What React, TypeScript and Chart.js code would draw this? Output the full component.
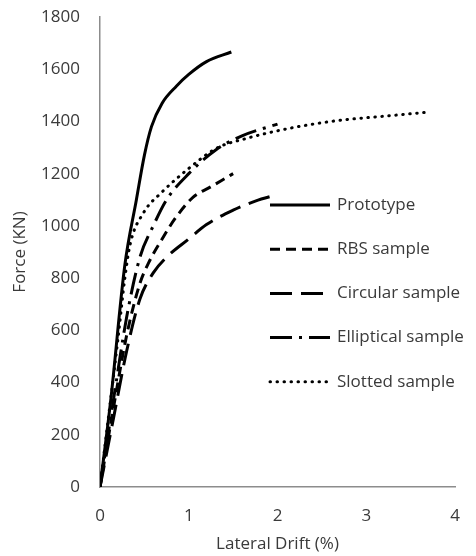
import React, { useEffect, useRef } from "react";
import { Chart, registerables } from "chart.js";

Chart.register(...registerables);

const seriesNames = ["Prototype", "RBS sample", "Circular sample", "Elliptical sample", "Slotted sample"];

const prototypeX = [0, 0.12, 0.28, 0.41, 0.5, 0.58, 0.7, 0.86, 1.0, 1.2, 1.48];
const prototypeY = [0, 330, 850, 1100, 1270, 1380, 1470, 1535, 1580, 1629, 1666];

const rbsX = [0, 0.15, 0.3, 0.45, 0.55, 0.7, 0.85, 1.05, 1.25, 1.5];
const rbsY = [0, 300, 580, 780, 860, 950, 1030, 1110, 1150, 1200];

const circularX = [0, 0.15, 0.3, 0.45, 0.6, 0.75, 1.0, 1.2, 1.5, 1.75, 2.0];
const circularY = [0, 260, 520, 720, 820, 880, 950, 1005, 1060, 1095, 1120];

const ellipticalX = [0, 0.15, 0.3, 0.45, 0.6, 0.75, 1.0, 1.3, 1.6, 2.0];
const ellipticalY = [0, 330, 650, 880, 1000, 1100, 1200, 1290, 1345, 1390];

const slottedX = [0, 0.1, 0.2, 0.28, 0.34, 0.49, 0.7, 0.86, 1.0, 1.31, 1.65, 2.14, 2.67, 3.2, 3.68];
const slottedY = [0, 280, 560, 800, 930, 1050, 1130, 1180, 1220, 1297, 1335, 1374, 1403, 1420, 1435];

const xTicks = [0, 1, 2, 3, 4];
const yTicks = [0, 200, 400, 600, 800, 1000, 1200, 1400, 1600, 1800];

const xTitle = "Lateral Drift (%)";
const yTitle = "Force (KN)";

const FONT = "'Open Sans'";
const FS = 17;
const TEXT = "#3a3a3a";

const styles = [
  { dash: [] as number[], cap: "butt" },
  { dash: [10, 6], cap: "butt" },
  { dash: [22, 9], cap: "butt" },
  { dash: [22, 7, 3, 7], cap: "butt" },
  { dash: [0.5, 6.5], cap: "round" },
];

function pts(xs: number[], ys: number[]) {
  return xs.map((x, i) => ({ x, y: ys[i] }));
}

const legendPlugin = {
  id: "customLegend",
  afterDraw(chart: any) {
    const ctx = chart.ctx;
    const x0 = 270;
    const x1 = 330;
    const yStart = 205;
    const step = 44.2;
    ctx.save();
    chart.data.datasets.forEach((ds: any, i: number) => {
      const y = yStart + i * step;
      ctx.beginPath();
      ctx.setLineDash(ds.borderDash || []);
      ctx.lineCap = ds.borderCapStyle || "butt";
      ctx.lineWidth = ds.borderWidth;
      ctx.strokeStyle = "#000";
      ctx.moveTo(x0, y);
      ctx.lineTo(x1, y);
      ctx.stroke();
      ctx.setLineDash([]);
      ctx.fillStyle = TEXT;
      ctx.font = `${FS}px ${FONT}`;
      ctx.textBaseline = "middle";
      ctx.textAlign = "left";
      ctx.fillText(ds.label, x1 + 7, y);
    });
    ctx.restore();
  },
};

export default function App() {
  const ref = useRef<HTMLCanvasElement>(null);
  useEffect(() => {
    if (!ref.current) return;
    const all = [
      pts(prototypeX, prototypeY),
      pts(rbsX, rbsY),
      pts(circularX, circularY),
      pts(ellipticalX, ellipticalY),
      pts(slottedX, slottedY),
    ];
    const chart = new Chart(ref.current, {
      type: "line",
      data: {
        datasets: all.map((d, i) => ({
          label: seriesNames[i],
          data: d,
          borderColor: "#000",
          borderWidth: 3,
          borderDash: styles[i].dash,
          borderCapStyle: styles[i].cap as any,
          pointRadius: 0,
          fill: false,
          cubicInterpolationMode: "monotone" as const,
        })),
      },
      options: {
        animation: false,
        responsive: false,
        layout: { padding: { top: 17, right: 21, left: 0, bottom: 0 } },
        plugins: { legend: { display: false }, tooltip: { enabled: false } },
        scales: {
          x: {
            type: "linear",
            min: 0,
            max: 4,
            afterBuildTicks: (s: any) => {
              s.ticks = xTicks.map((v) => ({ value: v }));
            },
            afterFit: (s: any) => {
              s.height = 69;
              s.paddingLeft = 0;
              s.paddingRight = 0;
            },
            grid: { display: false, drawTicks: false },
            border: { display: true, color: "#8c8c8c", width: 1.5 },
            ticks: {
              color: TEXT,
              font: { family: FONT, size: FS },
              padding: 19,
              callback: (v: any) => String(v),
            },
            title: {
              display: true,
              text: xTitle,
              color: TEXT,
              font: { family: FONT, size: FS },
              padding: { top: 0, bottom: 2 },
            },
          },
          y: {
            type: "linear",
            min: 0,
            max: 1800,
            afterBuildTicks: (s: any) => {
              s.ticks = yTicks.map((v) => ({ value: v }));
            },
            afterFit: (s: any) => {
              s.width = 100;
              s.paddingTop = 0;
              s.paddingBottom = 0;
            },
            grid: { display: false, drawTicks: false },
            border: { display: true, color: "#8c8c8c", width: 1.5 },
            ticks: {
              color: TEXT,
              font: { family: FONT, size: FS },
              padding: 20,
              callback: (v: any) => String(v),
            },
            title: {
              display: true,
              text: yTitle,
              color: TEXT,
              font: { family: FONT, size: FS },
              padding: { top: 10, bottom: 0 },
            },
          },
        },
      },
      plugins: [legendPlugin],
    });
    return () => chart.destroy();
  }, []);
  return (
    <div style={{ position: "absolute", left: 0, top: 0, width: 476, height: 556, background: "#fff" }}>
      <canvas ref={ref} width={476} height={556} style={{ display: "block" }} />
    </div>
  );
}
